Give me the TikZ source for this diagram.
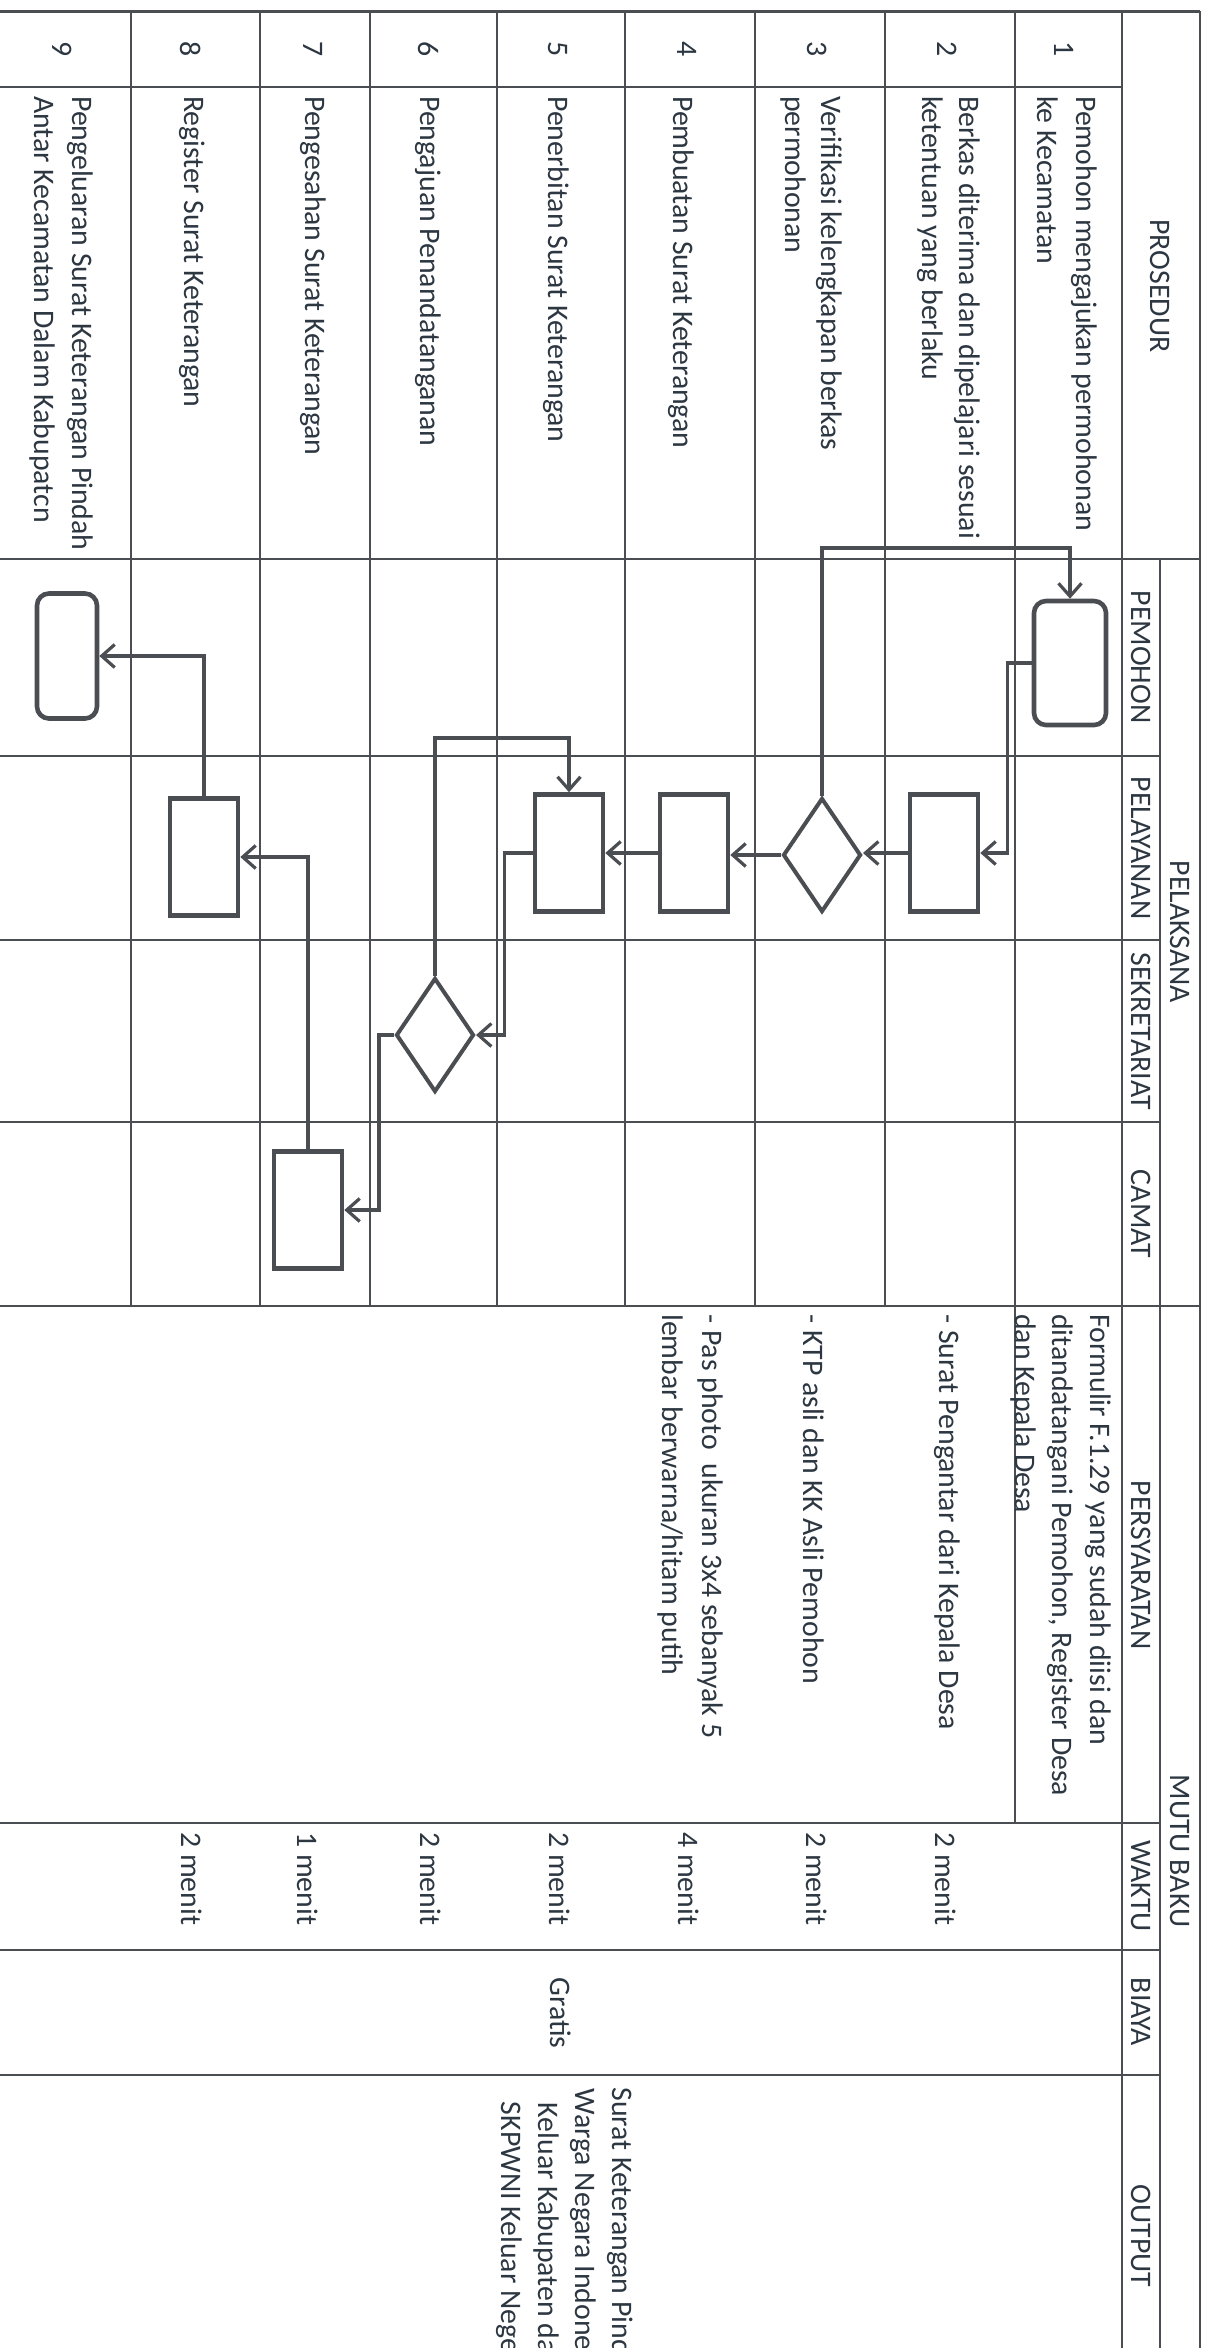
\documentclass[tikz,border=0pt]{standalone}
\usepackage{fontspec}
\setmainfont{Carlito}
\usetikzlibrary{arrows.meta,shapes.geometric}
\definecolor{ln}{RGB}{74,78,82}
\definecolor{tx}{RGB}{45,55,66}
\begin{document}
\begin{tikzpicture}[x=1pt,y=-1pt,
  grid/.style={draw=ln,line width=2.3pt},
  txt/.style={text=tx,font=\fontsize{29.8}{36}\selectfont,inner sep=0pt,rotate=-90},
  lt/.style={txt,anchor=west},
  ct/.style={txt,anchor=center},
  procbox/.style={draw=ln,line width=4.6pt,rectangle,minimum width=68pt,minimum height=117pt,inner sep=0pt},
  termbox/.style={draw=ln,line width=4.6pt,rectangle,rounded corners=12pt,inner sep=0pt},
  decbox/.style={draw=ln,line width=4pt,diamond,minimum width=78pt,minimum height=114pt,inner sep=0pt},
  conn/.style={draw=ln,line width=3.2pt,-{Straight Barb[length=13pt,width=23pt,line width=3.2pt]}}]
\useasboundingbox (0,0) rectangle (1207,2348);
\fill[white] (0,0) rectangle (1207,2348);
\clip (0,0) rectangle (1207,2348);
% ---------- grid ----------
\draw[grid,line width=3pt] (0,11) -- (1200,11);
\draw[grid] (0,87) -- (1122,87);
\draw[grid] (0,559) -- (1200,559);
\foreach \yy in {756,940,1122} {\draw[grid] (0,\yy) -- (1160,\yy);}
\draw[grid] (0,1306) -- (1200,1306);
\foreach \yy in {1823,1950,2075} {\draw[grid] (0,\yy) -- (1160,\yy);}
\foreach \xx in {131,260,370,497,625,755,885,1015} {\draw[grid] (\xx,11) -- (\xx,1306);}
\draw[grid] (1015,1306) -- (1015,1823);
\draw[grid] (1122,11) -- (1122,2348);
\draw[grid] (1160,559) -- (1160,2348);
\draw[grid,line width=2.6pt] (1200,11) -- (1200,2348);
% ---------- headers ----------
\node[ct] (hpro) at (1160,286) {PROSEDUR};
\node[ct] (hpel) at (1180,932) {PELAKSANA};
\node[ct] (hpmh) at (1141,657) {PEMOHON};
\node[ct] (hply) at (1141,848) {PELAYANAN};
\node[ct] (hsek) at (1141,1031) {SEKRETARIAT};
\node[ct] (hcam) at (1141,1214) {CAMAT};
\node[ct] (hmut) at (1180,1851) {MUTU BAKU};
\node[ct] (hper) at (1141,1565) {PERSYARATAN};
\node[ct] (hwak) at (1141,1886) {WAKTU};
\node[ct] (hbia) at (1141,2012) {BIAYA};
\node[ct] (hout) at (1141,2236) {OUTPUT};
% ---------- numbers ----------
\node[ct] (n1) at (1064,49) {1};
\node[ct] (n2) at (947,49) {2};
\node[ct] (n3) at (817,49) {3};
\node[ct] (n4) at (687,49) {4};
\node[ct] (n5) at (558,49) {5};
\node[ct] (n6) at (428,49) {6};
\node[ct] (n7) at (313,49) {7};
\node[ct] (n8) at (191,49) {8};
\node[ct] (n9) at (62,49) {9};
% ---------- prosedur ----------
\node[lt] (p1a) at (1084,96) {Pemohon mengajukan permohonan};
\node[lt] (p1b) at (1048,96) {ke Kecamatan};
\node[lt] (p2a) at (967,96) {Berkas diterima dan dipelajari sesuai};
\node[lt] (p2b) at (930,96) {ketentuan yang berlaku};
\node[lt] (p3a) at (829,96) {Verifikasi kelengkapan berkas};
\node[lt] (p3b) at (793,96) {permohonan};
\node[lt] (p4) at (681,96) {Pembuatan Surat Keterangan};
\node[lt] (p5) at (556,96) {Penerbitan Surat Keterangan};
\node[lt] (p6) at (428,96) {Pengajuan Penandatanganan};
\node[lt] (p7) at (313,96) {Pengesahan Surat Keterangan};
\node[lt] (p8) at (192,96) {Register Surat Keterangan};
\node[lt] (p9a) at (80,96) {Pengeluaran Surat Keterangan Pindah};
\node[lt] (p9b) at (42,96) {Antar Kecamatan Dalam Kabupatcn};
% ---------- persyaratan ----------
\node[lt] (q1a) at (1098,1314) {Formulir F.1.29 yang sudah diisi dan};
\node[lt] (q1b) at (1060,1314) {ditandatangani Pemohon, Register Desa};
\node[lt] (q1c) at (1023,1314) {dan Kepala Desa};
\node[lt] (q2) at (947,1314) {- Surat Pengantar dari Kepala Desa};
\node[lt] (q3) at (814,1314) {- KTP asli dan KK Asli Pemohon};
\node[lt] (q4a) at (710,1314) {- Pas photo\ \ ukuran 3x4 sebanyak 5};
\node[lt] (q4b) at (670,1314) {lembar berwarna/hitam putih};
% ---------- waktu ----------
\node[lt] (w2) at (946,1832) {2 menit};
\node[lt] (w3) at (817,1832) {2 menit};
\node[lt] (w4) at (689,1832) {4 menit};
\node[lt] (w5) at (560,1832) {2 menit};
\node[lt] (w6) at (431,1832) {2 menit};
\node[lt] (w7) at (308,1832) {1 menit};
\node[lt] (w8) at (192,1832) {2 menit};
% ---------- biaya / output ----------
\node[ct] (b5) at (561,2013) {Gratis};
\node[ct] (o1) at (620,2236) {Surat Keterangan Pindah};
\node[ct] (o2) at (583,2236) {Warga Negara Indonesia};
\node[ct] (o3) at (546,2236) {Keluar Kabupaten dan};
\node[ct] (o4) at (509,2236) {SKPWNI Keluar Negeri};
% ---------- flow shapes ----------
\node[termbox,minimum width=72pt,minimum height=124pt] (S1) at (1070,663) {};
\node[termbox,minimum width=60pt,minimum height=125pt] (S9) at (67,656) {};
\node[procbox] (R2) at (944,853) {};
\node[decbox] (D3) at (822,855) {};
\node[procbox] (R4) at (694,853) {};
\node[procbox] (R5) at (569,853) {};
\node[decbox] (D6) at (435,1035) {};
\node[procbox] (R7) at (308,1210) {};
\node[procbox] (R8) at (204,857) {};
% ---------- connectors ----------
\draw[conn] (S1.west) -- ++(-24,0) |- (R2.east);
\draw[conn] (R2.west) -- (R2.west -| D3.east);
\draw[conn] (D3.west) -- (D3.west -| R4.east);
\draw[conn] (R4.west) -- (R5.east);
\draw[conn] (D3.north) -- ++(0,-248) -| (S1.north);
\draw[conn] (R5.west) -- ++(-28,0) |- (D6.east);
\draw[conn] (D6.north) -- ++(0,-238) -| (R5.north);
\draw[conn] (D6.west) -- ++(-15,0) |- (R7.east);
\draw[conn] (R7.north) |- (R8.east);
\draw[conn] (R8.north) |- (S9.east);
\end{tikzpicture}
\end{document}
